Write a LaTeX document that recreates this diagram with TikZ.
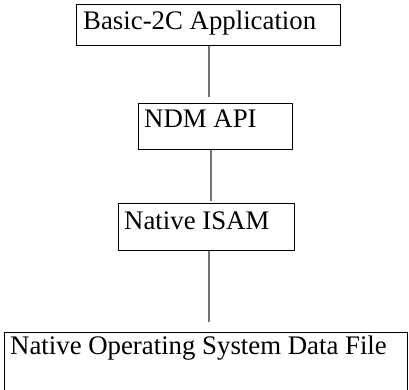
\documentclass[tikz,border=0pt]{standalone}
\usepackage{fontspec}
\setmainfont{Liberation Serif}
\begin{document}
\begin{tikzpicture}[x=1pt,y=-1pt,
  box/.style={draw=black,line width=1.2pt,anchor=north west,inner sep=0pt},
  lbl/.style={anchor=base west,inner sep=0pt,font=\fontsize{26.8}{30}\selectfont},
  conn/.style={draw=black!55,line width=1.2pt}]
\useasboundingbox (0,0) rectangle (409,390);
\node[box,minimum width=264pt,minimum height=41pt] (b1) at (76,4) {};
\node[box,minimum width=154pt,minimum height=46pt] (b2) at (138,103) {};
\node[box,minimum width=176pt,minimum height=47pt] (b3) at (118,203) {};
\node[box,minimum width=403pt,minimum height=70pt] (b4) at (4,332) {};
\node[lbl] (t1) at (83,29.5) {Basic-2C Application};
\node[lbl] (t2) at (144,128) {NDM API};
\node[lbl] (t3) at (124,229.5) {Native ISAM};
\node[lbl] (t4) at (10,354) {Native Operating System Data File};
\coordinate (c1) at (209,97);
\coordinate (c2) at (211,201);
\coordinate (c3) at (209,322);
\draw[conn] (b1.south west -| c1) -- (c1);
\draw[conn] (b2.south west -| c2) -- (c2);
\draw[conn] (b3.south west -| c3) -- (c3);
\end{tikzpicture}
\end{document}
